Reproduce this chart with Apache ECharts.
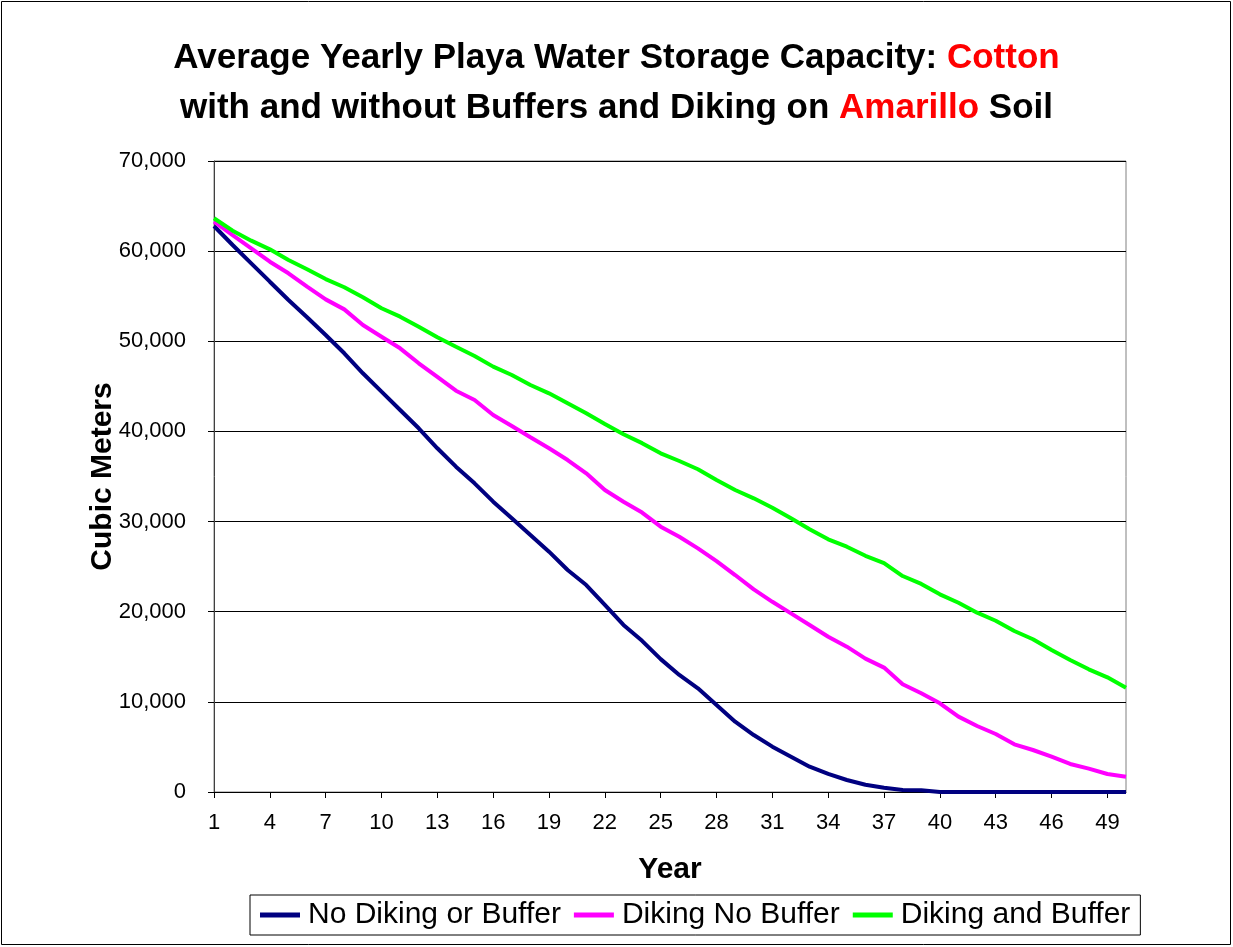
<!DOCTYPE html>
<html>
<head>
<meta charset="utf-8">
<script src="https://cdn.jsdelivr.net/npm/echarts@6/dist/echarts.min.js"></script>
<style>
html,body{margin:0;padding:0;background:#fff;}
#chart{width:1233px;height:947px;}
</style>
</head>
<body>
<div id="chart"></div>
<script>
var years = [];
for (var y = 1; y <= 50; y++) years.push(String(y));

var seriesNames = ['No Diking or Buffer', 'Diking No Buffer', 'Diking and Buffer'];

var noDikingOrBuffer = [62790, 60680, 58650, 56610, 54580, 52660, 50700, 48670, 46450, 44410,
  42380, 40350, 38130, 36090, 34240, 32210, 30360, 28510, 26660, 24630,
  22960, 20750, 18530, 16770, 14740, 12980, 11500, 9650, 7800, 6320,
  5030, 3920, 2810, 2000, 1330, 810, 480, 220, 200, 0,
  0, 0, 0, 0, 0, 0, 0, 0, 0, 0];

var dikingNoBuffer = [63270, 61790, 60320, 58830, 57540, 56060, 54650, 53540, 51800, 50510,
  49220, 47560, 46050, 44520, 43490, 41820, 40600, 39350, 38130, 36830,
  35350, 33500, 32200, 31000, 29430, 28320, 27030, 25620, 24070, 22480,
  21100, 19820, 18530, 17230, 16120, 14800, 13800, 11950, 10950, 9840,
  8360, 7320, 6430, 5290, 4660, 3920, 3110, 2590, 2000, 1700];

var dikingAndBuffer = [63650, 62270, 61160, 60200, 59020, 57990, 56900, 55990, 54880, 53660,
  52730, 51620, 50450, 49400, 48370, 47190, 46260, 45150, 44230, 43120,
  42010, 40830, 39680, 38700, 37570, 36720, 35800, 34610, 33500, 32580,
  31540, 30360, 29140, 28030, 27210, 26200, 25400, 23960, 23080, 21930,
  21000, 19890, 19000, 17860, 16940, 15750, 14640, 13610, 12720, 11570];

var colors = ['#000080', '#FF00FF', '#00FF00'];

var chart = echarts.init(document.getElementById('chart'));
var font = 'Liberation Sans, Arial, sans-serif';

function mkSeries(name, data, color) {
  return {
    name: name, type: 'line', data: data, showSymbol: false, symbol: 'none',
    lineStyle: { color: color, width: 4 }, itemStyle: { color: color },
    animation: false
  };
}

chart.setOption({
  backgroundColor: '#fff',
  animation: false,
  textStyle: { fontFamily: font },
  title: {
    text: 'Average Yearly Playa Water Storage Capacity: {r|Cotton}\nwith and without Buffers and Diking on {r|Amarillo} Soil',
    left: 'center', top: 28,
    textStyle: {
      fontFamily: font, fontSize: 35, fontWeight: 'bold', color: '#000', lineHeight: 50,
      rich: { r: { color: '#FF0000', fontFamily: font, fontSize: 35, fontWeight: 'bold', lineHeight: 50 } }
    }
  },
  graphic: [{
    type: 'rect', shape: { x: 1.5, y: 1.5, width: 1229, height: 943 },
    style: { fill: 'none', stroke: '#000', lineWidth: 1 }, silent: true
  }],
  legend: {
    data: seriesNames, left: 250, top: 895, orient: 'horizontal',
    padding: [5, 10, 5, 10], borderColor: '#000', borderWidth: 1,
    itemWidth: 40, itemHeight: 5, itemGap: 13, icon: 'rect',
    textStyle: { fontFamily: font, fontSize: 30, color: '#000', padding: [0, 0, 0, 3] }
  },
  grid: { left: 214, right: 107, top: 161, bottom: 155, show: true, borderColor: '#808080', borderWidth: 1 },
  xAxis: {
    type: 'category', data: years, boundaryGap: false,
    name: 'Year', nameLocation: 'middle', nameGap: 63, nameMoveOverlap: false,
    nameTextStyle: { fontFamily: font, fontSize: 30, fontWeight: 'bold', color: '#000' },
    axisLine: { lineStyle: { color: '#000', width: 1 } },
    axisTick: { interval: 2, length: 6, lineStyle: { color: '#000' } },
    axisLabel: { interval: 2, fontFamily: font, fontSize: 22, color: '#000', margin: 20 },
    splitLine: { show: false }
  },
  yAxis: {
    type: 'value', min: 0, max: 70000, interval: 10000,
    name: 'Cubic Meters', nameLocation: 'middle', nameGap: 96, nameRotate: 90, nameMoveOverlap: false,
    nameTextStyle: { fontFamily: font, fontSize: 30, fontWeight: 'bold', color: '#000' },
    axisLine: { show: true, lineStyle: { color: '#404040', width: 1 } },
    axisTick: { show: true, length: 6, lineStyle: { color: '#000' } },
    axisLabel: {
      fontFamily: font, fontSize: 22, color: '#000', margin: 28,
      formatter: function (v) { return v.toLocaleString('en-US'); }
    },
    splitLine: { show: true, lineStyle: { color: '#000', width: 1 } }
  },
  series: [
    mkSeries(seriesNames[0], noDikingOrBuffer, colors[0]),
    mkSeries(seriesNames[1], dikingNoBuffer, colors[1]),
    mkSeries(seriesNames[2], dikingAndBuffer, colors[2])
  ]
});
</script>
</body>
</html>
